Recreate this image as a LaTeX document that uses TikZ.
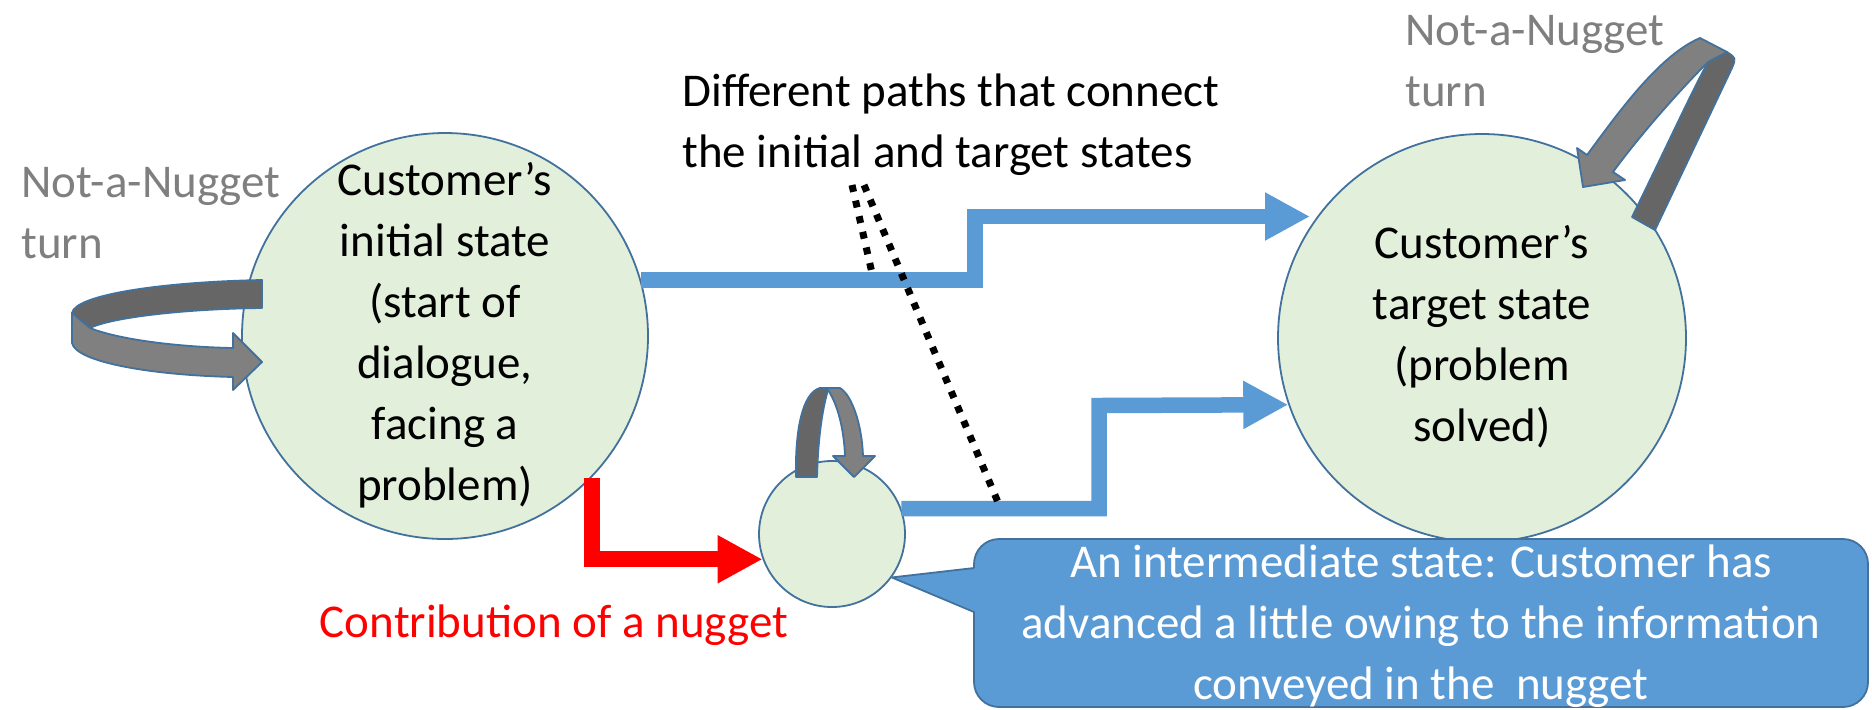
\documentclass[tikz,border=0pt]{standalone}
\usepackage{fontspec}
\setmainfont{Carlito}
\usetikzlibrary{arrows.meta}
\definecolor{stategreen}{HTML}{E2EFDA}
\definecolor{outlineblue}{HTML}{41719C}
\definecolor{pathblue}{HTML}{5B9BD5}
\definecolor{textgray}{HTML}{7F7F7F}
\definecolor{banddark}{HTML}{666666}
\definecolor{bandlight}{HTML}{808080}
\begin{document}
\begin{tikzpicture}[x=0.5pt,y=-0.5pt,
  state/.style={circle,draw=outlineblue,line width=0.9pt,fill=stategreen,inner sep=0pt},
  txt/.style={inner sep=0pt,font=\fontsize{23.5}{30.5}\selectfont},
  bluepath/.style={draw=pathblue,line width=7.75pt,-{Triangle[length=22.5pt,width=22.5pt]}},
  redpath/.style={draw=red,line width=8pt,-{Triangle[length=22.5pt,width=22.5pt]}},
  dotline/.style={black,line width=3.5pt,dash pattern=on 3.5pt off 4.5pt},
  bandd/.style={fill=banddark,draw=outlineblue,line width=0.9pt,line join=round},
  bandl/.style={fill=bandlight,draw=outlineblue,line width=0.9pt,line join=round},
  calloutbox/.style={draw=outlineblue,fill=pathblue,line width=0.9pt,rounded corners=12.5pt,inner sep=0pt},
]
\useasboundingbox (0,0) rectangle (1872,709);

% states
\node[state,minimum size=203pt] (init) at (445,336) {};
\node[state,minimum size=204pt] (target) at (1482,338) {};
\node[state,minimum size=73pt] (nug) at (832,534) {};

\node[txt,align=center] (inittext) at (init) {\strut Customer’s\\\strut initial state\\\strut (start of\\\strut dialogue,\\\strut facing a\\\strut problem)};
\node[txt,align=center] (targettext) at (target) {\strut Customer’s\\\strut target state\\\strut (problem\\\strut solved)};

% labels
\node[txt,text=textgray,align=left,anchor=north west] (nnleft) at (21,154.3) {\strut Not-a-Nugget\\\strut turn};
\node[txt,text=textgray,align=left,anchor=north west] (nnright) at (1405,2.3) {\strut Not-a-Nugget\\\strut turn};
\node[txt,align=left,anchor=north west] (pathslabel) at (682,63.3) {\strut Different paths that connect\\\strut the initial and target states};
\node[txt,text=red,anchor=base] (contrib) at (554,637) {Contribution of a nugget};

% paths
\coordinate (upBend) at (975,216.5);
\coordinate (upTip) at (1310,216.5);
\coordinate (lowBend) at (1099,405.5);
\draw[bluepath] (init.16) -| (upBend) -- (upTip);
\draw[bluepath] (nug.20) -| (lowBend) -- (target.199.3);
\draw[redpath] (init.-44) |- (nug.200);

% dotted pointers
\coordinate (dA1) at (852,185);
\coordinate (dA2) at (872,273);
\coordinate (dB1) at (864,185);
\coordinate (dB2) at (1000,507);
\draw[dotline] (dA1) -- (dA2);
\draw[dotline] (dB1) -- (dB2);

% left self-loop arrow
\draw[bandd] (262,280) .. controls (160,282) and (75,295) .. (72,313) -- (90,328)
  .. controls (110,318) and (180,309) .. (262,308) -- cycle;
\draw[bandl] (72,313) -- (72,343) .. controls (76,362) and (150,375) .. (233,377)
  -- (233,390) -- (262,362) -- (233,333) -- (233,348)
  .. controls (180,347) and (120,340) .. (90,328) -- cycle;

% right self-loop arrow
\draw[bandd] (1708,62) .. controls (1690,95) and (1665,150) .. (1632,217) -- (1655,230)
  -- (1732,68) .. controls (1736,58) .. (1727,52) -- cycle;
\draw[bandl] (1577,148) -- (1587,155) .. controls (1620,110) and (1660,55) .. (1700,38)
  -- (1727,52) -- (1708,62) .. controls (1680,90) and (1640,135) .. (1613,172)
  -- (1625,180) -- (1583,187) -- cycle;

% small self-loop arrow
\draw[bandd] (796,477) -- (796,460) .. controls (797,420) and (805,392) .. (820,388)
  -- (828,390) .. controls (822,410) and (818,440) .. (817,477) -- cycle;
\draw[bandl] (820,388) -- (840,388) .. controls (852,395) and (862,425) .. (863,456)
  -- (875,456) -- (854,477) -- (833,456) -- (845,456)
  .. controls (844,430) and (838,405) .. (828,390) -- cycle;

% callout
\node[calloutbox,minimum width=447pt,minimum height=84pt] (callout) at (1421,623) {};
\fill[pathblue] (976,568) -- (nug.-36) -- (976,612) -- cycle;
\draw[outlineblue,line width=0.9pt,line join=round] (974,568) -- (nug.-36) -- (974,612);
\node[txt,text=white,align=center,anchor=north] (callouttext) at (1421,534.3) {\strut An intermediate state: Customer has\\\strut advanced a little owing to the information\\\strut conveyed in the\ \ nugget};
\end{tikzpicture}
\end{document}
